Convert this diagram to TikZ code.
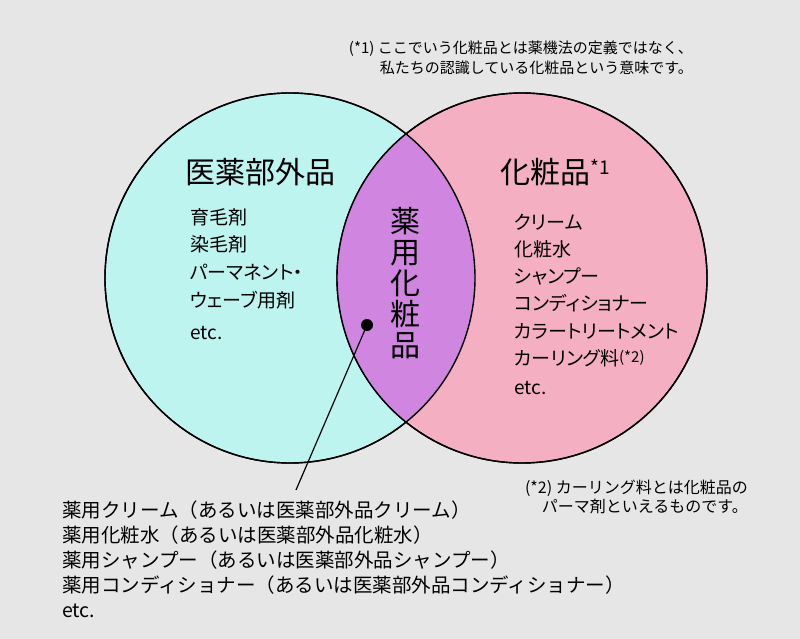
\documentclass[tikz,border=0pt]{standalone}
\usepackage{fontspec}
\setmainfont{Noto Sans CJK JP}[RawFeature=+palt]
\newfontfamily\fulljp{Noto Sans CJK JP}
\usetikzlibrary{positioning}
\definecolor{bggray}{HTML}{E6E6E6}
\definecolor{iyakucyan}{HTML}{BEF4F0}
\definecolor{keshopink}{HTML}{F4B0C2}
\definecolor{yakuyopurple}{HTML}{D086E0}

\begin{document}
\begin{tikzpicture}[
    x=1pt, y=-1pt,
    setcircle/.style={circle, draw=black, line width=1.4pt, minimum size=370pt, inner sep=0pt},
    settitle/.style={font=\fontsize{30}{34}\selectfont, inner sep=0pt},
    listitem/.style={font=\fontsize{19}{22}\selectfont, anchor=west, inner sep=0pt},
    footnote/.style={align=right, inner sep=0pt}
]

% Background and bounding box
\fill[bggray] (0,0) rectangle (800,639);
\useasboundingbox (0,0) rectangle (800,639);

% Two sets
\node[setcircle, fill=iyakucyan] (quasi) at (290,278) {};
\node[setcircle, fill=keshopink] (cosme) at (522,278) {};

% Overlap
\begin{scope}
    \clip (quasi.center) circle (185pt);
    \fill[yakuyopurple] (cosme.center) circle (185pt);
\end{scope}
\draw[line width=1.4pt] (quasi.center) circle (185pt);
\draw[line width=1.4pt] (cosme.center) circle (185pt);

% Top note (*1)
\node[footnote, font=\fulljp\fontsize{15}{20}\selectfont, anchor=east] (note1) at (693,58)
    {(*1) ここでいう化粧品とは薬機法の定義ではなく、\\
     私たちの認識している化粧品という意味です。};

% Set titles
\node[settitle] (quasititle) at (260,172) {医薬部外品};
\node[settitle, anchor=west] (cosmetitle) at (500,172)
    {化粧品\raisebox{9pt}{\fontsize{19}{20}\selectfont *1}};

% Quasi-drug items
\foreach \txt/\yy [count=\i] in {育毛剤/217, 染毛剤/244, パーマネント・/272, ウェーブ用剤/300, etc./333} {
    \node[listitem] (quasi\i) at (190,\yy) {\txt};
}

% Cosmetics items
\foreach \txt/\yy [count=\i] in {クリーム/222, 化粧水/249, シャンプー/276, コンディショナー/303, カラートリートメント/331, {カーリング料\raisebox{3pt}{\fulljp\fontsize{15}{16}\selectfont (*2)}}/358, etc./388} {
    \node[listitem] (cosme\i) at (514,\yy) {\txt};
}

% Overlap label
\node[font=\fontsize{30}{31}\selectfont, align=center, inner sep=0pt] (yakuyo) at (405,283)
    {薬\\用\\化\\粧\\品};

% Pointer
\node[circle, fill=black, minimum size=12pt, inner sep=0pt] (dot) at (367,325) {};
\node[font=\fulljp\fontsize{19.5}{25}\selectfont, align=left, anchor=north west, inner sep=0pt] (examples) at (62,501)
    {薬用クリーム（あるいは医薬部外品クリーム）\\
     薬用化粧水（あるいは医薬部外品化粧水）\\
     薬用シャンプー（あるいは医薬部外品シャンプー）\\
     薬用コンディショナー（あるいは医薬部外品コンディショナー）\\
     etc.};
\coordinate (tip) at (296,490);
\draw[line width=1.2pt] (dot.center) -- (tip);

% Note (*2)
\node[footnote, font=\fulljp\fontsize{16}{19}\selectfont, anchor=east] (note2) at (748,497)
    {(*2) カーリング料とは化粧品の\\
     パーマ剤といえるものです。};

\end{tikzpicture}
\end{document}
